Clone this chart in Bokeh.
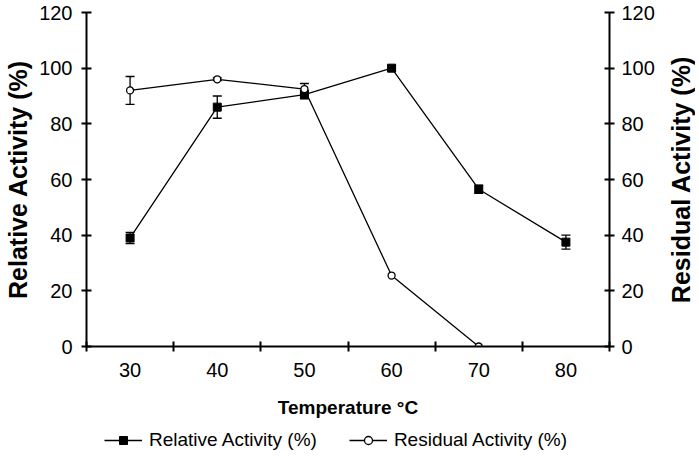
from bokeh.plotting import figure
from bokeh.layouts import column, row
from bokeh.models import (ColumnDataSource, Whisker, TeeHead, FixedTicker, LinearAxis,
                          Legend, LegendItem, Range1d)
from bokeh.embed import file_html
from bokeh.resources import INLINE

# ---- data ----
temps = [30, 40, 50, 60, 70, 80]
relative = [39, 86, 90.5, 100, 56.5, 37.5]
relative_err = [2, 4, 1.5, 1, 1.5, 2.5]
res_temps = [30, 40, 50, 60, 70]
residual = [92, 96, 92.5, 25.5, 0]
residual_err = [5, 0.5, 2, 0, 0]
y_ticks = [0, 20, 40, 60, 80, 100, 120]
series_names = ["Relative Activity (%)", "Residual Activity (%)"]

FONT = "Liberation Sans"
W = 664
BL, BR, BT, BB = 86, 664 - 86 - 523, 12, 75

p = figure(width=W, height=421, min_border_left=BL, min_border_right=BR,
           min_border_top=BT, min_border_bottom=BB,
           x_range=Range1d(25, 85), y_range=Range1d(0, 120),
           output_backend="svg", toolbar_location=None)
p.outline_line_color = None
p.xgrid.visible = False
p.ygrid.visible = False
p.background_fill_color = "white"

# x axis: labels at temps, tick marks between categories
bounds = [t - 5 for t in temps] + [temps[-1] + 5]
xa = p.xaxis[0]
xa.ticker = FixedTicker(ticks=temps, minor_ticks=bounds)
xa.major_tick_in = 0
xa.major_tick_out = 0
xa.minor_tick_in = 5
xa.minor_tick_out = 5
xa.minor_tick_line_width = 2
xa.axis_line_width = 2
xa.major_label_standoff = 11
xa.major_label_text_font = FONT
xa.major_label_text_font_size = "20px"
xa.major_label_text_color = "black"
xa.axis_label = "Temperature \u00b0C"
xa.axis_label_text_font = FONT
xa.axis_label_text_font_size = "19px"
xa.axis_label_text_font_style = "bold"
xa.axis_label_text_color = "black"
xa.axis_label_standoff = 17

def style_y(ax, standoff):
    ax.ticker = FixedTicker(ticks=y_ticks)
    ax.minor_tick_line_color = None
    ax.major_tick_in = 5
    ax.major_tick_out = 5
    ax.major_tick_line_width = 2
    ax.axis_line_width = 2
    ax.major_label_standoff = standoff
    ax.major_label_text_font = FONT
    ax.major_label_text_font_size = "20px"
    ax.major_label_text_color = "black"

def style_title(ax, label, standoff):
    ax.axis_label = label
    ax.axis_label_text_font = FONT
    ax.axis_label_text_font_size = "25px"
    ax.axis_label_text_font_style = "bold"
    ax.axis_label_text_color = "black"
    ax.axis_label_standoff = standoff

style_y(p.yaxis[0], 9)
style_title(p.yaxis[0], series_names[0], 4)
ra = LinearAxis()
p.add_layout(ra, "right")
style_y(ra, 7)

# error bars
rel_src = ColumnDataSource(dict(x=temps, y=relative,
                                up=[v + e for v, e in zip(relative, relative_err)],
                                lo=[v - e for v, e in zip(relative, relative_err)]))
keep = [i for i, e in enumerate(residual_err) if e > 0]
res_err_src = ColumnDataSource(dict(x=[res_temps[i] for i in keep],
                                    up=[residual[i] + residual_err[i] for i in keep],
                                    lo=[residual[i] - residual_err[i] for i in keep]))
res_src = ColumnDataSource(dict(x=res_temps, y=residual))

for src in (rel_src, res_err_src):
    w = Whisker(base="x", upper="up", lower="lo", source=src, line_width=1.3, line_color="black",
                upper_head=TeeHead(size=9, line_width=1.3, line_color="black"),
                lower_head=TeeHead(size=9, line_width=1.3, line_color="black"))
    p.add_layout(w)

def draw(fig, msize=(8, 7)):
    return [fig.line("x", "y", source=rel_src, line_color="black", line_width=1.3),
            fig.scatter("x", "y", source=rel_src, marker="square", size=msize[0],
                        fill_color="black", line_color="black"),
            fig.line("x", "y", source=res_src, line_color="black", line_width=1.3),
            fig.scatter("x", "y", source=res_src, marker="circle", size=msize[1],
                        fill_color="white", line_color="black", line_width=1.3)]

draw(p)

# right-hand title strip (reads bottom-to-top like the reference)
p3 = figure(width=30, height=421, min_border_left=0, min_border_right=0,
            min_border_top=BT, min_border_bottom=BB,
            x_range=Range1d(0, 1), y_range=p.y_range, x_axis_location=None,
            output_backend="svg", toolbar_location=None)
p3.grid.visible = False
p3.outline_line_color = None
ya3 = p3.yaxis[0]
ya3.ticker = FixedTicker(ticks=[])
ya3.axis_line_color = None
ya3.major_tick_line_color = None
ya3.minor_tick_line_color = None
ya3.major_tick_in = 0
ya3.major_tick_out = 0
ya3.minor_tick_in = 0
ya3.minor_tick_out = 0
ya3.major_label_standoff = 0
style_title(ya3, series_names[1], 0)

# legend strip below the chart (its renderers are hidden; only the legend shows)
p2 = figure(width=W, height=30, min_border_left=BL, min_border_right=BR,
            min_border_top=0, min_border_bottom=0, output_backend="svg",
            toolbar_location=None, x_axis_location=None, y_axis_location=None)
p2.grid.visible = False
p2.outline_line_color = None
lr = draw(p2, msize=(6, 6))
for r in lr:
    r.visible = False
legend = Legend(items=[LegendItem(label=series_names[0], renderers=lr[:2]),
                       LegendItem(label=series_names[1], renderers=lr[2:])],
                orientation="horizontal", location=(18, 0), margin=0, padding=0,
                spacing=32, glyph_width=38, glyph_height=20, label_height=20, label_standoff=7,
                label_text_font=FONT, label_text_font_size="19px", label_text_color="black",
                inactive_fill_alpha=0, click_policy="none",
                border_line_color=None, background_fill_alpha=0)
p2.add_layout(legend, "center")

open("out.html", "w").write(file_html(column(row(p, p3, spacing=0), p2, spacing=0), INLINE))
